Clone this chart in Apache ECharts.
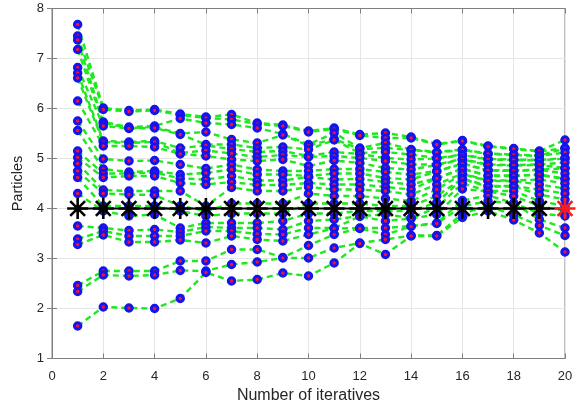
<!DOCTYPE html>
<html>
<head>
<meta charset="utf-8">
<script src="https://cdn.jsdelivr.net/npm/echarts@6/dist/echarts.min.js"></script>
<style>
  html, body { margin: 0; padding: 0; background: #fff; }
  #chart { width: 581px; height: 403px; }
</style>
</head>
<body>
<div id="chart"></div>
<script>
// Particle positions at each iteration (one array per iteration, particles ordered high to low)
const iter01 = [7.68, 7.45, 7.37, 7.18, 6.82, 6.71, 6.61, 6.15, 5.75, 5.56, 5.15, 5.02, 4.90, 4.75, 4.62, 4.30, 3.65, 3.39, 3.28, 2.46, 2.34, 1.65];
const iter02 = [6.01, 5.98, 5.73, 5.71, 5.65, 5.35, 5.33, 5.25, 4.99, 4.79, 4.70, 4.62, 4.37, 4.30, 4.05, 3.95, 3.61, 3.55, 3.47, 2.75, 2.67, 2.03];
const iter03 = [5.96, 5.94, 5.63, 5.61, 5.60, 5.33, 5.31, 5.25, 4.95, 4.73, 4.70, 4.65, 4.35, 4.28, 4.05, 3.85, 3.56, 3.45, 3.33, 2.75, 2.65, 2.01];
const iter04 = [5.98, 5.96, 5.65, 5.63, 5.61, 5.35, 5.33, 5.23, 4.96, 4.75, 4.72, 4.65, 4.35, 4.27, 4.05, 3.88, 3.58, 3.45, 3.33, 2.75, 2.67, 2.00];
const iter05 = [5.89, 5.87, 5.80, 5.50, 5.48, 5.21, 5.11, 5.09, 4.88, 4.68, 4.60, 4.51, 4.35, 4.05, 3.95, 3.61, 3.53, 3.45, 3.37, 2.95, 2.76, 2.20];
const iter06 = [5.83, 5.81, 5.71, 5.53, 5.28, 5.26, 5.16, 5.05, 4.80, 4.71, 4.58, 4.48, 4.05, 3.95, 3.85, 3.71, 3.63, 3.55, 3.31, 2.95, 2.75, 2.72];
const iter07 = [5.88, 5.78, 5.68, 5.38, 5.28, 5.19, 5.10, 4.98, 4.88, 4.78, 4.65, 4.53, 4.42, 4.10, 3.90, 3.71, 3.61, 3.55, 3.45, 3.18, 2.88, 2.55];
const iter08 = [5.71, 5.69, 5.61, 5.31, 5.21, 5.13, 5.03, 4.95, 4.78, 4.68, 4.56, 4.47, 4.35, 4.10, 3.90, 3.71, 3.61, 3.49, 3.38, 3.18, 2.93, 2.58];
const iter09 = [5.67, 5.65, 5.49, 5.47, 5.23, 5.15, 5.07, 4.98, 4.75, 4.68, 4.56, 4.47, 4.35, 4.10, 3.90, 3.75, 3.58, 3.48, 3.35, 3.02, 3.01, 2.71];
const iter10 = [5.55, 5.53, 5.28, 5.26, 5.18, 5.05, 5.03, 4.85, 4.75, 4.65, 4.63, 4.51, 4.43, 4.30, 4.10, 3.90, 3.75, 3.61, 3.48, 3.26, 3.01, 2.65];
const iter11 = [5.61, 5.59, 5.51, 5.39, 5.37, 5.13, 5.05, 4.96, 4.79, 4.70, 4.58, 4.48, 4.38, 4.25, 4.10, 3.90, 3.78, 3.61, 3.60, 3.48, 3.21, 2.91];
const iter12 = [5.48, 5.46, 5.21, 5.19, 5.11, 5.09, 5.01, 4.91, 4.79, 4.70, 4.59, 4.48, 4.38, 4.25, 4.10, 3.95, 3.85, 3.84, 3.61, 3.60, 3.31, 3.30];
const iter13 = [5.51, 5.41, 5.31, 5.21, 5.13, 5.01, 4.95, 4.81, 4.73, 4.61, 4.53, 4.43, 4.35, 4.20, 4.05, 3.95, 3.88, 3.75, 3.61, 3.48, 3.38, 3.08];
const iter14 = [5.43, 5.41, 5.18, 5.17, 5.08, 4.98, 4.88, 4.78, 4.68, 4.58, 4.48, 4.38, 4.28, 4.15, 4.05, 3.95, 3.81, 3.80, 3.65, 3.64, 3.46, 3.45];
const iter15 = [5.29, 5.28, 5.13, 5.12, 5.01, 5.00, 4.88, 4.87, 4.75, 4.74, 4.61, 4.60, 4.48, 4.38, 4.25, 4.12, 4.02, 3.88, 3.71, 3.70, 3.46, 3.45];
const iter16 = [5.36, 5.35, 5.18, 5.17, 5.08, 5.07, 4.99, 4.98, 4.90, 4.89, 4.80, 4.79, 4.70, 4.69, 4.60, 4.59, 4.50, 4.39, 4.16, 4.04, 3.90, 3.82];
const iter17 = [5.25, 5.24, 5.10, 5.09, 4.99, 4.98, 4.88, 4.87, 4.77, 4.76, 4.66, 4.65, 4.56, 4.55, 4.45, 4.44, 4.35, 4.34, 4.26, 4.15, 4.05, 3.95];
const iter18 = [5.20, 5.19, 5.08, 5.07, 4.98, 4.97, 4.87, 4.86, 4.76, 4.75, 4.66, 4.65, 4.56, 4.55, 4.45, 4.44, 4.35, 4.25, 4.11, 4.10, 3.87, 3.77];
const iter19 = [5.15, 5.14, 5.06, 5.05, 4.97, 4.96, 4.88, 4.87, 4.78, 4.77, 4.68, 4.67, 4.58, 4.48, 4.38, 4.28, 4.15, 4.05, 3.90, 3.78, 3.66, 3.51];
const iter20 = [5.37, 5.21, 5.20, 5.12, 5.01, 5.00, 4.92, 4.81, 4.80, 4.70, 4.60, 4.59, 4.50, 4.40, 4.30, 4.18, 4.05, 3.95, 3.85, 3.61, 3.46, 3.13];

// Best position found at each iteration
const bestPosition = [4, 4, 4, 4, 4, 4, 4, 4, 4, 4, 4, 4, 4, 4, 4, 4, 4, 4, 4, 4];

// Axis ticks
const xTicks = [0, 2, 4, 6, 8, 10, 12, 14, 16, 18, 20];
const yTicks = [1, 2, 3, 4, 5, 6, 7, 8];

const iterations = [iter01, iter02, iter03, iter04, iter05, iter06, iter07, iter08, iter09, iter10,
                    iter11, iter12, iter13, iter14, iter15, iter16, iter17, iter18, iter19, iter20];

const particleCount = iter01.length;
const green = '#1ee81e';
const fontFamily = '"Liberation Sans", Arial, sans-serif';
const asterisk = 'path://M10 0 L10 20 M0 10 L20 10 M2.93 2.93 L17.07 17.07 M17.07 2.93 L2.93 17.07';

const series = [];

// dashed trajectory of each particle
for (let p = 0; p < particleCount; p++) {
  series.push({
    type: 'line',
    data: iterations.map((col, i) => [i + 1, col[p]]),
    symbol: 'none',
    z: 2,
    silent: true,
    animation: false,
    lineStyle: { color: green, width: 2.4, type: [6, 4] }
  });
}

// particle markers
series.push({
  type: 'scatter',
  data: iterations.flatMap((col, i) => col.map(v => [i + 1, v])),
  symbol: 'circle',
  symbolSize: 6.5,
  z: 3,
  animation: false,
  itemStyle: { color: '#f0103c', borderColor: '#1414ee', borderWidth: 3, opacity: 1 }
});

// best-position line with asterisk markers; last one in red
series.push({
  type: 'line',
  data: bestPosition.map((v, i) => {
    const item = { value: [i + 1, v] };
    if (i === bestPosition.length - 1) {
      item.itemStyle = { color: '#ff1a1a', borderColor: '#ff1a1a' };
    }
    return item;
  }),
  symbol: asterisk,
  symbolSize: 21,
  showAllSymbol: true,
  z: 4,
  animation: false,
  lineStyle: { color: '#000', width: 2 },
  itemStyle: { color: '#000', borderColor: '#000', borderWidth: 2.6 }
});

const tickLabelStyle = { color: '#262626', fontSize: 13, fontFamily: fontFamily };
const frameColor = '#808080';

const chart = echarts.init(document.getElementById('chart'), null, { renderer: 'canvas' });
chart.setOption({
  animation: false,
  backgroundColor: '#fff',
  grid: { left: 52, right: 16, top: 8.5, bottom: 44.5, containLabel: false,
          outerBoundsMode: 'none',
          show: true, borderColor: frameColor, borderWidth: 1 },
  xAxis: [{
    type: 'value',
    min: xTicks[0], max: xTicks[xTicks.length - 1], interval: 2,
    name: 'Number of iteratives',
    nameLocation: 'middle', nameGap: 29,
    nameTextStyle: { color: '#262626', fontSize: 16, fontFamily: fontFamily },
    axisLine: { show: true, lineStyle: { color: frameColor } },
    axisTick: { show: true, inside: true, length: 5, lineStyle: { color: frameColor } },
    axisLabel: { ...tickLabelStyle, margin: 11 },
    splitLine: { show: true, lineStyle: { color: '#e6e6e6', width: 1 } }
  }, {
    type: 'value', position: 'top',
    min: xTicks[0], max: xTicks[xTicks.length - 1], interval: 2,
    axisLine: { show: true, lineStyle: { color: frameColor } },
    axisTick: { show: true, inside: true, length: 5, lineStyle: { color: frameColor } },
    axisLabel: { show: false },
    splitLine: { show: false }
  }],
  yAxis: [{
    type: 'value',
    min: yTicks[0], max: yTicks[yTicks.length - 1], interval: 1,
    name: 'Particles',
    nameLocation: 'middle', nameGap: 18,
    nameTextStyle: { color: '#262626', fontSize: 14.5, fontFamily: fontFamily },
    axisLine: { show: true, lineStyle: { color: frameColor } },
    axisTick: { show: true, inside: true, length: 5, lineStyle: { color: frameColor } },
    axisLabel: { ...tickLabelStyle, margin: 8 },
    splitLine: { show: true, lineStyle: { color: '#e6e6e6', width: 1 } }
  }, {
    type: 'value', position: 'right',
    min: yTicks[0], max: yTicks[yTicks.length - 1], interval: 1,
    axisLine: { show: true, lineStyle: { color: frameColor } },
    axisTick: { show: true, inside: true, length: 5, lineStyle: { color: frameColor } },
    axisLabel: { show: false },
    splitLine: { show: false }
  }],
  series: series
});
</script>
</body>
</html>
